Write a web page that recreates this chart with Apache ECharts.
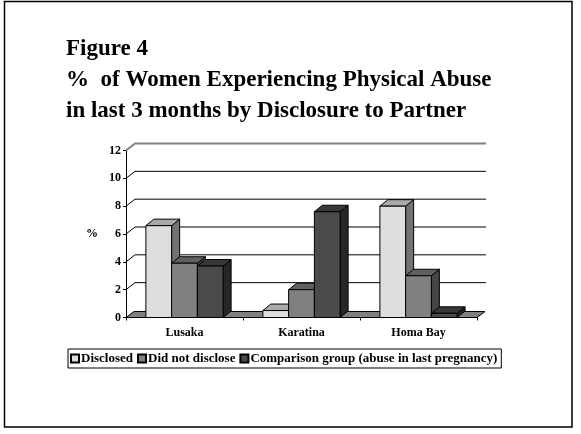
<!DOCTYPE html>
<html><head><meta charset="utf-8">
<script src="https://cdn.jsdelivr.net/npm/echarts@6/dist/echarts.min.js"></script>
<style>html,body{margin:0;padding:0;background:#fff}#c{width:581px;height:434px}</style>
</head><body><div id="c"></div>
<script>
const categories = ['Lusaka', 'Karatina', 'Homa Bay'];
const seriesNames = ['Disclosed', 'Did not disclose', 'Comparison group (abuse in last pregnancy)'];
const disclosed = [6.6, 0.5, 8.0];
const didNotDisclose = [3.9, 2.0, 3.0];
const comparison = [3.7, 7.6, 0.3];
const yTicks = [0, 2, 4, 6, 8, 10, 12];
const titleLines = ['Figure 4', '%  of Women Experiencing Physical Abuse', 'in last 3 months by Disclosure to Partner'];

const FONT = '"Liberation Serif", "Times New Roman", serif';
const faceColors = [
  {front: '#dedede', top: '#aaaaaa', side: '#737373'},
  {front: '#808080', top: '#606060', side: '#454545'},
  {front: '#4a4a4a', top: '#383838', side: '#262626'}
];
const BAR_D = [8, -6.5];   // bar depth vector
const WALL_D = [9, -7];    // back wall offset
const FLOOR_D = [8, -6];

const allValues = [disclosed, didNotDisclose, comparison];

function barRender(sIdx) {
  return function (params, api) {
    const cat = api.value(0), v = api.value(1);
    const base = api.coord([cat, 0]);
    const top = api.coord([cat, v]);
    const cw = api.size([1, 0])[0];
    const bw = cw * 0.22;
    const cx = base[0] + (sIdx - 1) * bw;
    const x0 = cx - bw / 2, x1 = cx + bw / 2;
    const yt = top[1], yb = base[1];
    const [dx, dy] = BAR_D;
    const c = faceColors[sIdx];
    const st = {stroke: '#000', lineWidth: 1};
    return {
      type: 'group',
      children: [
        {type: 'polygon', shape: {points: [[x1, yt], [x1 + dx, yt + dy], [x1 + dx, yb + dy], [x1, yb]]}, style: Object.assign({fill: c.side}, st)},
        {type: 'polygon', shape: {points: [[x0, yt], [x1, yt], [x1 + dx, yt + dy], [x0 + dx, yt + dy]]}, style: Object.assign({fill: c.top}, st)},
        {type: 'rect', shape: {x: x0, y: yt, width: bw, height: yb - yt}, style: Object.assign({fill: c.front}, st)}
      ]
    };
  };
}

function wallRender(params, api) {
  const cs = params.coordSys;
  const x0 = cs.x, x1 = cs.x + cs.width;
  const children = [];
  yTicks.forEach(function (t, i) {
    if (t === 0) return;
    const y = api.coord([0, t])[1];
    const last = i === yTicks.length - 1;
    children.push({
      type: 'polyline',
      shape: {points: [[x0, y], [x0 + WALL_D[0], y + WALL_D[1]], [x1 + WALL_D[0], y + WALL_D[1]]]},
      style: {stroke: last ? '#808080' : '#000', lineWidth: last ? 2 : 1, fill: null}
    });
  });
  const y0 = api.coord([0, 0])[1];
  children.push({
    type: 'polygon',
    shape: {points: [[x0, y0], [x1, y0], [x1 + FLOOR_D[0], y0 + FLOOR_D[1]], [x0 + FLOOR_D[0], y0 + FLOOR_D[1]]]},
    style: {fill: '#808080', stroke: '#000', lineWidth: 1}
  });
  return {type: 'group', children: children};
}

const series = [{
  name: 'walls', type: 'custom', renderItem: wallRender, data: [[0, 0]], z: 1, silent: true
}];
allValues.forEach(function (vals, s) {
  series.push({
    name: seriesNames[s], type: 'custom', renderItem: barRender(s), z: 2 + s,
    itemStyle: {color: faceColors[s].front, borderColor: '#000', borderWidth: 1},
    data: categories.map(function (c, i) { return [i, vals[i]]; })
  });
});

const chart = echarts.init(document.getElementById('c'), null, {renderer: 'canvas'});
chart.setOption({
  animation: false,
  backgroundColor: '#fff',
  title: {
    text: titleLines.join('\n'),
    left: 66, top: 34, padding: 0,
    textStyle: {fontFamily: FONT, fontWeight: 'bold', fontSize: 23, lineHeight: 31, color: '#000'}
  },
  graphic: [{
    type: 'rect', shape: {x: 4.5, y: 1.5, width: 567.5, height: 425.5},
    style: {fill: null, stroke: '#000', lineWidth: 1.5}, silent: true
  }],
  legend: {
    data: seriesNames.map(function (n) { return {name: n, icon: 'rect'}; }),
    left: 68, top: 349,
    itemWidth: 8, itemHeight: 8, itemGap: 4,
    padding: [3, 4, 3, 2],
    borderColor: '#000', borderWidth: 1,
    textStyle: {fontFamily: FONT, fontWeight: 'bold', fontSize: 13, color: '#000', padding: [0, 0, 0, -3]}
  },
  grid: {left: 126, right: 104, top: 150.5, bottom: 116.5},
  xAxis: {
    type: 'category', data: categories, boundaryGap: true,
    axisLine: {show: true, lineStyle: {color: '#000', width: 1}},
    axisTick: {show: true, length: 3, lineStyle: {color: '#000'}},
    axisLabel: {fontFamily: FONT, fontWeight: 'bold', fontSize: 12, color: '#000', margin: 9},
    splitLine: {show: false}
  },
  yAxis: {
    type: 'value', min: 0, max: 12, interval: 2,
    name: '%', nameLocation: 'middle', nameRotate: 0, nameGap: 28,
    nameTextStyle: {fontFamily: FONT, fontWeight: 'bold', fontSize: 12, color: '#000'},
    axisLine: {show: true, lineStyle: {color: '#000', width: 1}},
    axisTick: {show: true, length: 3, lineStyle: {color: '#000'}},
    axisLabel: {fontFamily: FONT, fontWeight: 'bold', fontSize: 12, color: '#000', margin: 5},
    splitLine: {show: false}
  },
  series: series
});
</script></body></html>
